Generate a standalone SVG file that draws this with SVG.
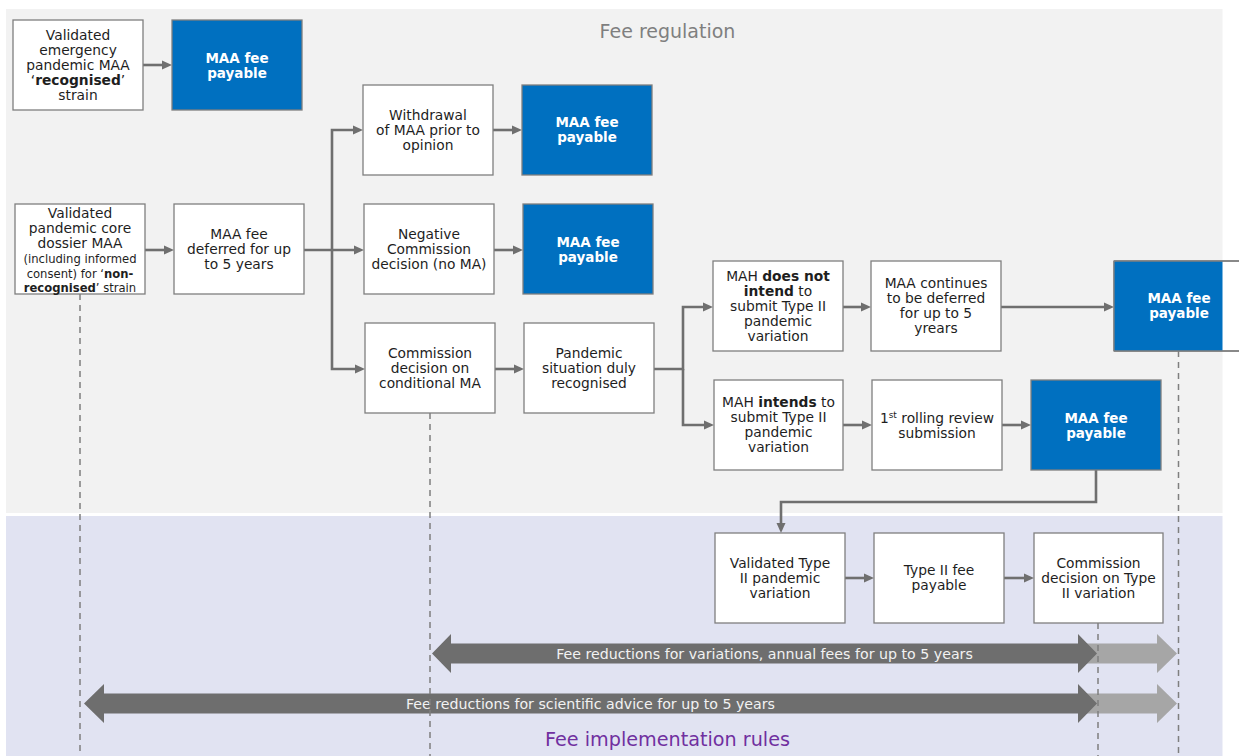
<svg xmlns="http://www.w3.org/2000/svg" width="1239" height="756" viewBox="0 0 1239 756">
<style>
text{font-family:Verdana,"DejaVu Sans",sans-serif;}
.t{font-size:13.8px;fill:#1e1e1e;text-anchor:middle;}
.s{font-size:11.6px;}
.b{font-weight:bold;}
.bt{font-size:13.5px;font-weight:bold;fill:#ffffff;text-anchor:middle;}
.box{fill:#ffffff;stroke:#7f7f7f;stroke-width:1.3;}
.blue{fill:#0070c0;stroke:#7f7f7f;stroke-width:1.3;}
.c{fill:none;stroke:#6f6f6f;stroke-width:2.6;marker-end:url(#ah);}
.d{fill:none;stroke:#7f7f7f;stroke-width:1.5;stroke-dasharray:6 5;}
.al{font-size:14.2px;fill:#f2f2f2;text-anchor:middle;}
</style>
<defs>
<marker id="ah" markerUnits="userSpaceOnUse" markerWidth="10" markerHeight="10" viewBox="0 0 10 10" refX="1" refY="5" orient="auto">
<path d="M0,0.5 L10,5 L0,9.5 Z" fill="#6f6f6f"/>
</marker>
</defs>
<rect x="0" y="0" width="1239" height="756" fill="#ffffff"/>
<rect x="6" y="9" width="1216.5" height="504" fill="#f2f2f2"/>
<rect x="6" y="516" width="1216.5" height="240" fill="#e1e3f2"/>
<text x="667.5" y="37.5" style="font-size:19px;fill:#7f7f7f;text-anchor:middle;">Fee regulation</text>
<text x="667.5" y="746" style="font-size:19.2px;fill:#7030a0;text-anchor:middle;">Fee implementation rules</text>

<g id="timeline-arrows">
<polygon points="1078,643.5 1157,643.5 1157,634 1177,653.5 1157,673 1157,663.5 1078,663.5" fill="#a6a6a6"/>
<polygon points="432,653.5 451,634 451,643.5 1078,643.5 1078,634 1097,653.5 1078,673 1078,663.5 451,663.5 451,673" fill="#6e6e6e"/>
<text class="al" x="764.5" y="658.5">Fee reductions for variations, annual fees for up to 5 years</text>
<polygon points="1078,693.5 1157,693.5 1157,684 1177,703.5 1157,723 1157,713.5 1078,713.5" fill="#a6a6a6"/>
<polygon points="84,703.5 104,684 104,693.5 1078,693.5 1078,684 1097,703.5 1078,723 1078,713.5 104,713.5 104,723" fill="#6e6e6e"/>
<text class="al" x="590.5" y="708.5">Fee reductions for scientific advice for up to 5 years</text>
</g>

<g id="guides">
<line class="d" x1="80" y1="294" x2="80" y2="756"/>
<line class="d" x1="430" y1="413" x2="430" y2="756"/>
<line class="d" x1="1098" y1="623" x2="1098" y2="756"/>
<line class="d" x1="1178.5" y1="351" x2="1178.5" y2="756"/>
</g>

<g id="connectors">
<path class="c" d="M143,65 H163"/>
<path class="c" d="M145,250 H165"/>
<path class="c" d="M304,250 H355"/>
<path class="c" d="M332,250 V130 H354"/>
<path class="c" d="M332,250 V369 H356"/>
<path class="c" d="M493,130 H513"/>
<path class="c" d="M494,250 H514"/>
<path class="c" d="M495,369 H515"/>
<path class="c" d="M654,369 H683 V307 H704"/>
<path class="c" d="M683,369 V425 H705"/>
<path class="c" d="M843,307 H862"/>
<path class="c" d="M1001,307 H1105"/>
<path class="c" d="M843,425 H863"/>
<path class="c" d="M1002,425 H1022"/>
<path class="c" d="M1096,470 V502 H781 V524"/>
<path class="c" d="M845,578 H865"/>
<path class="c" d="M1004,578 H1025"/>
</g>

<g id="n-emergency">
<rect class="box" x="13" y="20" width="130" height="90"/>
<text class="t" x="78" y="40">Validated</text>
<text class="t" x="78" y="55">emergency</text>
<text class="t" x="78" y="70">pandemic MAA</text>
<text class="t" x="78" y="85">‘<tspan class="b">recognised</tspan>’</text>
<text class="t" x="78" y="100">strain</text>
</g>
<g id="n-fee1">
<rect class="blue" x="172" y="20" width="130" height="90"/>
<text class="bt" x="237" y="62.5">MAA fee</text>
<text class="bt" x="237" y="77.5">payable</text>
</g>

<g id="n-core">
<rect class="box" x="15" y="204" width="130" height="90"/>
<text class="t" x="80" y="218">Validated</text>
<text class="t" x="80" y="233">pandemic core</text>
<text class="t" x="80" y="248">dossier MAA</text>
<text class="t s" x="80" y="263">(including informed</text>
<text class="t s" x="80" y="277.5">consent) for ‘<tspan class="b">non-</tspan></text>
<text class="t s" x="80" y="291.5"><tspan class="b">recognised</tspan>’ strain</text>
</g>
<g id="n-deferred">
<rect class="box" x="174" y="204" width="130" height="90"/>
<text class="t" x="239" y="239">MAA fee</text>
<text class="t" x="239" y="254">deferred for up</text>
<text class="t" x="239" y="269">to 5 years</text>
</g>

<g id="n-withdrawal">
<rect class="box" x="363" y="85" width="130" height="90"/>
<text class="t" x="428" y="119.5">Withdrawal</text>
<text class="t" x="428" y="134.5">of MAA prior to</text>
<text class="t" x="428" y="149.5">opinion</text>
</g>
<g id="n-fee2">
<rect class="blue" x="522" y="85" width="130" height="90"/>
<text class="bt" x="587" y="127">MAA fee</text>
<text class="bt" x="587" y="142">payable</text>
</g>

<g id="n-negative">
<rect class="box" x="364" y="204" width="130" height="90"/>
<text class="t" x="429" y="239">Negative</text>
<text class="t" x="429" y="254">Commission</text>
<text class="t" x="429" y="269">decision (no MA)</text>
</g>
<g id="n-fee3">
<rect class="blue" x="523" y="204" width="130" height="90"/>
<text class="bt" x="588" y="246.5">MAA fee</text>
<text class="bt" x="588" y="261.5">payable</text>
</g>

<g id="n-conditional">
<rect class="box" x="365" y="323" width="130" height="90"/>
<text class="t" x="430" y="357.5">Commission</text>
<text class="t" x="430" y="372.5">decision on</text>
<text class="t" x="430" y="387.5">conditional MA</text>
</g>
<g id="n-pandemic">
<rect class="box" x="524" y="323" width="130" height="90"/>
<text class="t" x="589" y="357.5">Pandemic</text>
<text class="t" x="589" y="372.5">situation duly</text>
<text class="t" x="589" y="387.5">recognised</text>
</g>

<g id="n-notintend">
<rect class="box" x="713" y="261" width="130" height="90"/>
<text class="t" x="778" y="280.5">MAH <tspan class="b">does not</tspan></text>
<text class="t" x="778" y="295.5"><tspan class="b">intend</tspan> to</text>
<text class="t" x="778" y="310.5">submit Type II</text>
<text class="t" x="778" y="325.5">pandemic</text>
<text class="t" x="778" y="340.5">variation</text>
</g>
<g id="n-continues">
<rect class="box" x="871" y="261" width="130" height="90"/>
<text class="t" x="936" y="288">MAA continues</text>
<text class="t" x="936" y="303">to be deferred</text>
<text class="t" x="936" y="318">for up to 5</text>
<text class="t" x="936" y="333">yrears</text>
</g>
<g id="n-fee4">
<rect class="box" x="1114" y="261" width="130" height="90"/>
<rect x="1114" y="261" width="108.5" height="90" fill="#0070c0"/>
<path d="M1114,261 V351 M1114,261 H1239 M1114,351 H1239" stroke="#7f7f7f" stroke-width="1.3" fill="none"/>
<text class="bt" x="1179" y="303">MAA fee</text>
<text class="bt" x="1179" y="318">payable</text>
</g>

<g id="n-intends">
<rect class="box" x="714" y="380" width="129" height="90"/>
<text class="t" x="778.5" y="407">MAH <tspan class="b">intends</tspan> to</text>
<text class="t" x="778.5" y="422">submit Type II</text>
<text class="t" x="778.5" y="437">pandemic</text>
<text class="t" x="778.5" y="452">variation</text>
</g>
<g id="n-rolling">
<rect class="box" x="872" y="380" width="130" height="90"/>
<text class="t" x="937" y="422.5">1<tspan font-size="9" baseline-shift="super">st</tspan> rolling review</text>
<text class="t" x="937" y="437.5">submission</text>
</g>
<g id="n-fee5">
<rect class="blue" x="1031" y="380" width="130" height="90"/>
<text class="bt" x="1096" y="422.5">MAA fee</text>
<text class="bt" x="1096" y="437.5">payable</text>
</g>

<g id="n-validated2">
<rect class="box" x="715" y="533" width="130" height="90"/>
<text class="t" x="780" y="567.5">Validated Type</text>
<text class="t" x="780" y="582.5">II pandemic</text>
<text class="t" x="780" y="597.5">variation</text>
</g>
<g id="n-typeiifee">
<rect class="box" x="874" y="533" width="130" height="90"/>
<text class="t" x="939" y="575">Type II fee</text>
<text class="t" x="939" y="590">payable</text>
</g>
<g id="n-decision2">
<rect class="box" x="1034" y="533" width="129" height="90"/>
<text class="t" x="1098.5" y="567.5">Commission</text>
<text class="t" x="1098.5" y="582.5">decision on Type</text>
<text class="t" x="1098.5" y="597.5">II variation</text>
</g>
</svg>
